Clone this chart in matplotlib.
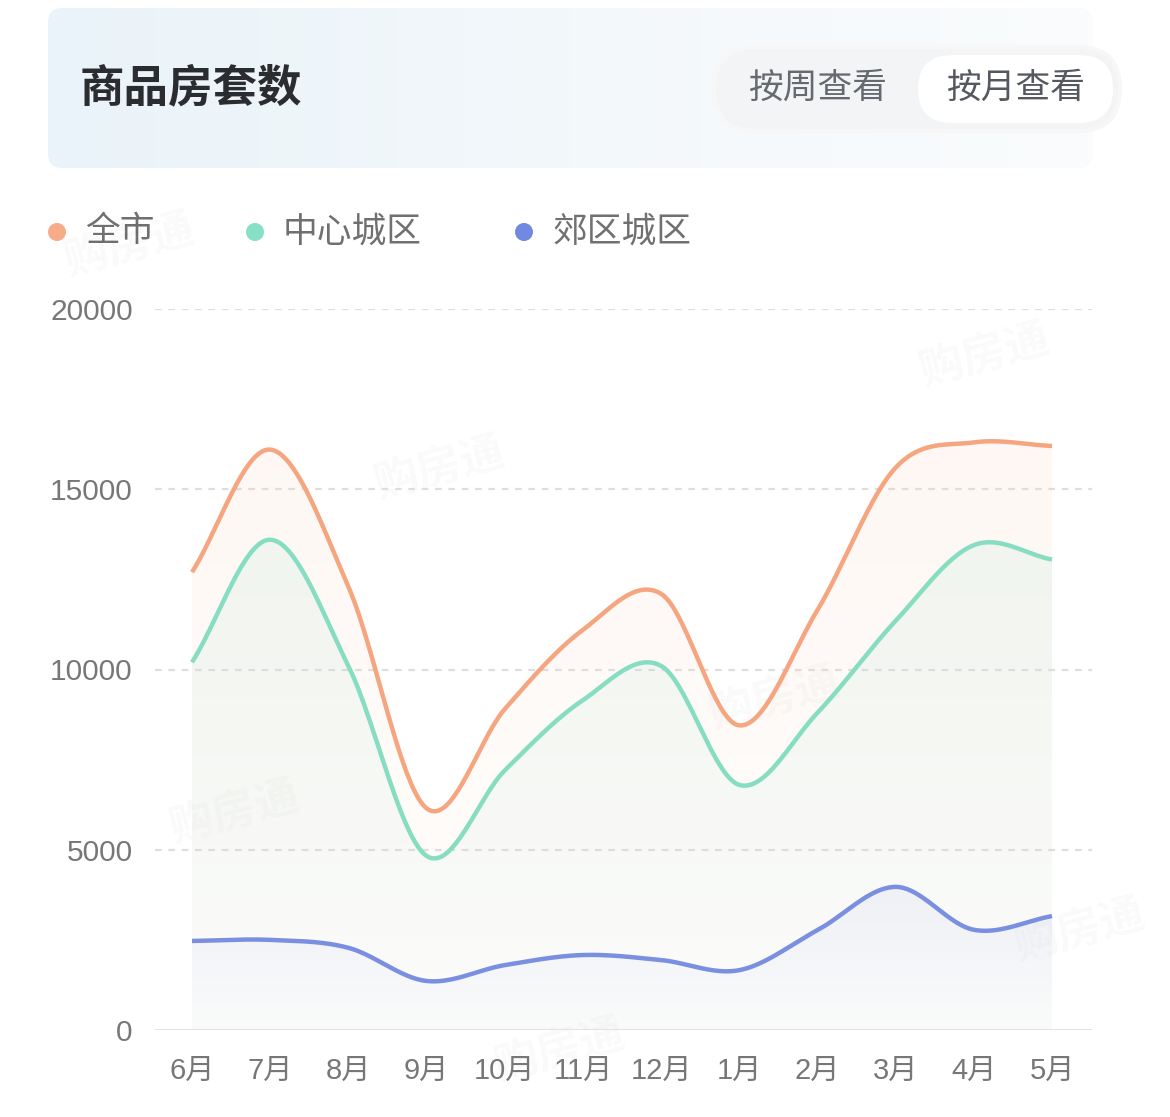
import numpy as np
import matplotlib
matplotlib.use("Agg")
import matplotlib.pyplot as plt
from matplotlib.patches import FancyBboxPatch, Circle, Polygon

plt.rcParams['font.family'] = ['Noto Sans CJK SC', 'DejaVu Sans']

# data
months = ["6月", "7月", "8月", "9月", "10月", "11月", "12月", "1月", "2月", "3月", "4月", "5月"]
city_all = [12700, 16100, 12300, 6150, 8900, 11100, 12100, 8450, 11650, 15600, 16300, 16200]
city_center = [10200, 13600, 10100, 4830, 7200, 9150, 10100, 6800, 8800, 11350, 13450, 13050]
suburb = [2470, 2500, 2280, 1360, 1800, 2080, 1940, 1660, 2770, 3970, 2780, 3160]
yticks = [0, 5000, 10000, 15000, 20000]

series = [
    ("全市", city_all, "#f5a680", "#f6ab89", (0.98, 0.82, 0.72), 0.16),
    ("中心城区", city_center, "#86ddc1", "#86e0c6", (0.74, 0.90, 0.85), 0.20),
    ("郊区城区", suburb, "#7b8fe0", "#7189e0", (0.80, 0.82, 0.95), 0.22),
]

W, H = 1170, 1117
x0, x1 = 155, 1092
px0, px11 = 192, 1052
step = (px11 - px0) / 11
ytop, ybot = 309, 1030


def smooth(vals, n=40):
    # catmull-rom curve through the points, for drawing only
    y = np.asarray(vals, float)
    N = len(y)
    m = np.zeros(N)
    m[1:-1] = (y[2:] - y[:-2]) / 2
    m[0] = y[1] - y[0]
    m[-1] = y[-1] - y[-2]
    xs, ys = [], []
    for i in range(N - 1):
        t = np.linspace(0, 1, n, endpoint=(i == N - 2))
        h00 = 2 * t**3 - 3 * t**2 + 1
        h10 = t**3 - 2 * t**2 + t
        h01 = -2 * t**3 + 3 * t**2
        h11 = t**3 - t**2
        xs.append(i + t)
        ys.append(h00 * y[i] + h10 * m[i] + h01 * y[i + 1] + h11 * m[i + 1])
    return np.concatenate(xs), np.concatenate(ys)


fig = plt.figure(figsize=(W / 100, H / 100), dpi=100)
fig.patch.set_facecolor("white")

# overlay in pixel coordinates for header / legend
bg = fig.add_axes([0, 0, 1, 1])
bg.axis("off")

# header card with a soft gradient
grad = np.linspace(0, 1, 256)[None, :]
cmap = matplotlib.colors.LinearSegmentedColormap.from_list("hdr", ["#eaf3f9", "#f3f8fb", "#fafcfd"])
card = FancyBboxPatch((48, 8), 1045, 160, boxstyle="round,pad=0,rounding_size=14",
                      fc="none", ec="none")
bg.add_patch(card)
im = bg.imshow(grad, cmap=cmap, extent=(48, 1093, 168, 8), aspect="auto", zorder=0)
im.set_clip_path(card)
bg.set_xlim(0, W)
bg.set_ylim(H, 0)

bg.text(80, 88, "商品房套数", fontsize=32, fontweight="bold", color="#2a2c30",
        va="center", ha="left")

bg.add_patch(FancyBboxPatch((714, 47), 406, 84, boxstyle="round,pad=0,rounding_size=42",
                            fc="#f3f4f6", ec="#f7f7f8", lw=3, zorder=1))
bg.add_patch(FancyBboxPatch((918, 55), 195, 68, boxstyle="round,pad=0,rounding_size=34",
                            fc="white", ec="none", zorder=2))
bg.text(818, 88, "按周查看", fontsize=25, color="#666a70", ha="center", va="center", zorder=3)
bg.text(1016, 88, "按月查看", fontsize=25, color="#55595f", ha="center", va="center", zorder=3)

# legend
leg_x = [57, 255, 524]
for (name, _, _, dot, _, _), lx in zip(series, leg_x):
    bg.add_patch(Circle((lx, 232), 9, fc=dot, ec="none"))
    bg.text(lx + 28, 232, name, fontsize=25, color="#707070", ha="left", va="center")

# watermarks
for wx, wy in [(130, 245), (440, 468), (985, 355), (235, 812), (775, 698), (1080, 930), (560, 1050)]:
    bg.text(wx, wy, "购房通", fontsize=32, color="#000000", alpha=0.025, rotation=15,
            ha="center", va="center", fontweight="bold")

# main chart
ax = fig.add_axes([x0 / W, (H - ybot) / H, (x1 - x0) / W, (ybot - ytop) / H])
ax.patch.set_alpha(0)
for s in ax.spines.values():
    s.set_visible(False)

for v in yticks[1:]:
    ax.axhline(v, color="#dedede", lw=1.6, ls=(0, (3, 3)), zorder=1)
ax.axhline(0, color="#e3e3e3", lw=2.2, zorder=5)

xi = np.arange(len(months))
for k, (name, vals, lc, dot, fc, a0) in enumerate(series):
    xs, ys = smooth(vals)
    poly = Polygon(np.column_stack([np.r_[xs, xs[-1], xs[0]], np.r_[ys, 0, 0]]),
                   closed=True, fc="none", ec="none")
    ax.add_patch(poly)
    g = np.zeros((256, 1, 4))
    g[..., 0], g[..., 1], g[..., 2] = fc
    g[:, 0, 3] = np.linspace(a0, 0.03, 256)
    gim = ax.imshow(g, extent=(xs[0], xs[-1], 0, max(ys)), origin="upper",
                    aspect="auto", zorder=2 + k * 0.1, interpolation="bilinear")
    gim.set_clip_path(poly)
    ax.plot(xs, ys, color=lc, lw=3.2, zorder=6, solid_capstyle="butt")

ax.set_xlim(-(px0 - x0) / step, 11 + (x1 - px11) / step)
ax.set_ylim(0, 20000)
ax.set_xticks(xi)
ax.set_xticklabels(months)
ax.set_yticks(yticks)
ax.set_yticklabels([str(v) for v in yticks])
ax.tick_params(length=0, colors="#777777")
ax.tick_params(axis="x", pad=19, labelsize=21)
ax.tick_params(axis="y", pad=16, labelsize=21.5)
for lab in ax.get_xticklabels() + ax.get_yticklabels():
    lab.set_family(["Liberation Sans", "Noto Sans CJK SC"])

fig.savefig("out.png", dpi=100)
